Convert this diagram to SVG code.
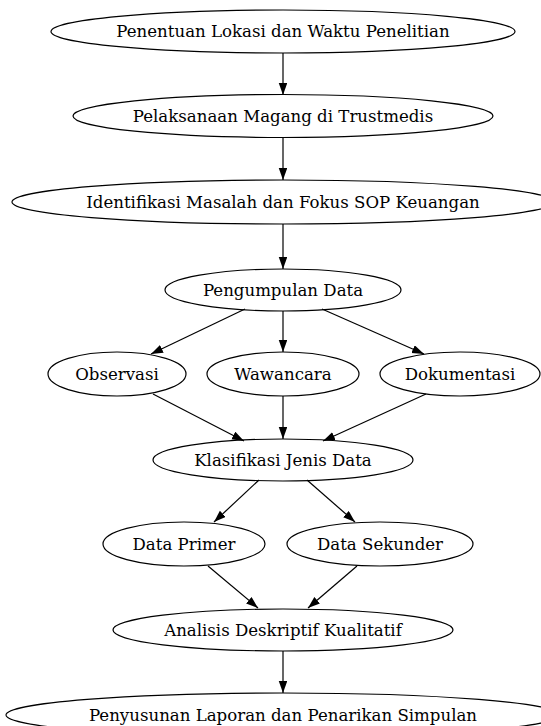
<svg xmlns="http://www.w3.org/2000/svg" width="541" height="726" viewBox="0 0 541 726">
<style>
.n ellipse{fill:none;stroke:#000;stroke-width:1.2}
.n text{font-family:"DejaVu Serif",serif;font-size:16.6px;fill:#000;text-anchor:middle}
.e line{stroke:#000;stroke-width:1.2;marker-end:url(#ah)}
</style>
<defs>
<marker id="ah" markerUnits="userSpaceOnUse" markerWidth="12" markerHeight="9" refX="12" refY="4.25" orient="auto">
<polygon points="0,0 12,4.25 0,8.5" fill="#000"/>
</marker>
</defs>
<rect width="541" height="726" fill="#fff"/>
<g id="edges" class="e">
<line x1="283" y1="53" x2="283" y2="95"/>
<line x1="283" y1="137" x2="283" y2="180"/>
<line x1="283" y1="224" x2="283" y2="269"/>
<line x1="245" y1="309" x2="151" y2="354"/>
<line x1="283" y1="311" x2="283" y2="352"/>
<line x1="322" y1="309" x2="424" y2="354"/>
<line x1="153" y1="394" x2="244" y2="441"/>
<line x1="283" y1="396" x2="283" y2="439"/>
<line x1="426" y1="394" x2="323" y2="441"/>
<line x1="259" y1="480" x2="214" y2="522"/>
<line x1="307" y1="480" x2="355" y2="522"/>
<line x1="208" y1="566" x2="258" y2="608"/>
<line x1="357" y1="566" x2="308" y2="608"/>
<line x1="283" y1="651" x2="283" y2="693"/>
</g>
<g id="n1" class="n"><ellipse cx="283" cy="31.5" rx="232" ry="21.5"/><text x="283" y="37">Penentuan Lokasi dan Waktu Penelitian</text></g>
<g id="n2" class="n"><ellipse cx="283" cy="116" rx="210" ry="21.5"/><text x="283" y="121.5">Pelaksanaan Magang di Trustmedis</text></g>
<g id="n3" class="n"><ellipse cx="283" cy="202" rx="271" ry="22"/><text x="283" y="207.5">Identifikasi Masalah dan Fokus SOP Keuangan</text></g>
<g id="n4" class="n"><ellipse cx="283" cy="290" rx="118" ry="21"/><text x="283" y="295.5">Pengumpulan Data</text></g>
<g id="n5" class="n"><ellipse cx="117" cy="374" rx="69" ry="22"/><text x="117" y="379.5">Observasi</text></g>
<g id="n6" class="n"><ellipse cx="283" cy="374" rx="76" ry="22"/><text x="283" y="379.5">Wawancara</text></g>
<g id="n7" class="n"><ellipse cx="460" cy="374" rx="80" ry="22"/><text x="460" y="379.5">Dokumentasi</text></g>
<g id="n8" class="n"><ellipse cx="283" cy="460" rx="130" ry="21"/><text x="283" y="465.5">Klasifikasi Jenis Data</text></g>
<g id="n9" class="n"><ellipse cx="184" cy="544" rx="81" ry="22"/><text x="184" y="549.5">Data Primer</text></g>
<g id="n10" class="n"><ellipse cx="380" cy="544" rx="93" ry="22"/><text x="380" y="549.5">Data Sekunder</text></g>
<g id="n11" class="n"><ellipse cx="283" cy="630" rx="170" ry="21"/><text x="283" y="635.5">Analisis Deskriptif Kualitatif</text></g>
<g id="n12" class="n"><ellipse cx="283" cy="715" rx="277" ry="22"/><text x="283" y="720.5">Penyusunan Laporan dan Penarikan Simpulan</text></g>
</svg>
